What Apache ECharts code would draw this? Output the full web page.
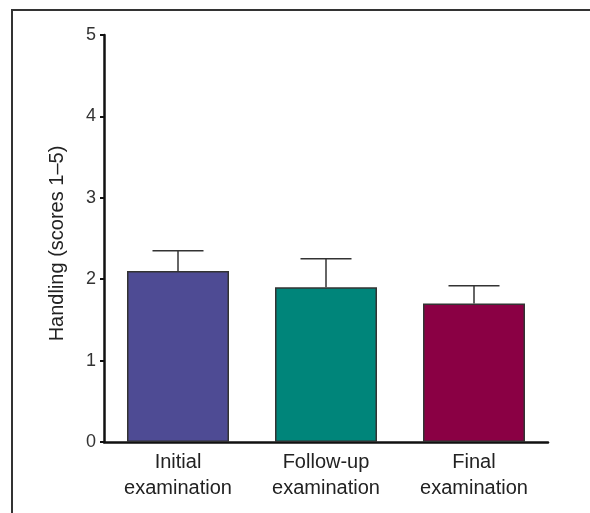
<!DOCTYPE html>
<html>
<head>
<meta charset="utf-8">
<script src="https://cdn.jsdelivr.net/npm/echarts@6/dist/echarts.min.js"></script>
<style>
  html, body { margin: 0; padding: 0; background: #fff; }
  #chart { width: 590px; height: 513px; }
</style>
</head>
<body>
<div id="chart"></div>
<script>
// data
var categories = ['Initial\nexamination', 'Follow-up\nexamination', 'Final\nexamination']
var means = [2.1, 1.9, 1.7]
var errUpper = [0.25, 0.35, 0.22]
var barColors = ['#4e4b94', '#00857a', '#8a0044']
var yTicks = [0, 1, 2, 3, 4, 5]

var chart = echarts.init(document.getElementById('chart'))

var option = {
  animation: false,
  grid: {
    left: 104,
    right: 42,
    top: 35,
    bottom: 71
  },
  graphic: [{
    type: 'polyline',
    shape: { points: [[12, 513], [12, 10], [590, 10]] },
    style: { stroke: '#333', lineWidth: 2, fill: null }
  }],
  xAxis: {
    type: 'category',
    data: categories,
    axisLine: { lineStyle: { color: '#111', width: 2.5 } },
    axisTick: { show: false },
    axisLabel: {
      color: '#222',
      fontSize: 20,
      lineHeight: 26,
      margin: 7,
      fontFamily: 'Liberation Sans'
    }
  },
  yAxis: {
    type: 'value',
    min: yTicks[0],
    max: yTicks[yTicks.length - 1],
    interval: 1,
    name: 'Handling (scores 1–5)',
    nameLocation: 'middle',
    nameRotate: 90,
    nameGap: 37,
    nameTextStyle: {
      color: '#222',
      fontSize: 20,
      fontFamily: 'Liberation Sans',
      padding: [0, 10, 0, 0]
    },
    axisLine: { show: true, lineStyle: { color: '#111', width: 2.5 } },
    axisTick: { show: true, length: 4, lineStyle: { color: '#111', width: 2 } },
    splitLine: { show: false },
    axisLabel: {
      color: '#333',
      fontSize: 18,
      margin: 8,
      fontFamily: 'Liberation Sans'
    }
  },
  series: [{
    type: 'bar',
    barWidth: 102,
    data: means.map(function (v, i) {
      return {
        value: v,
        itemStyle: { color: barColors[i], borderColor: '#333', borderWidth: 1.5 }
      }
    })
  }, {
    type: 'custom',
    z: 1,
    data: means.map(function (v, i) { return [i, v, v + errUpper[i]] }),
    renderItem: function (params, api) {
      var lo = api.coord([api.value(0), api.value(1)])
      var hi = api.coord([api.value(0), api.value(2)])
      var half = 25.5
      var style = { stroke: '#333', lineWidth: 1.5 }
      return {
        type: 'group',
        children: [{
          type: 'line',
          shape: { x1: lo[0], y1: lo[1], x2: hi[0], y2: hi[1] },
          style: style
        }, {
          type: 'line',
          shape: { x1: hi[0] - half, y1: hi[1], x2: hi[0] + half, y2: hi[1] },
          style: style
        }]
      }
    }
  }]
}

chart.setOption(option)
</script>
</body>
</html>
